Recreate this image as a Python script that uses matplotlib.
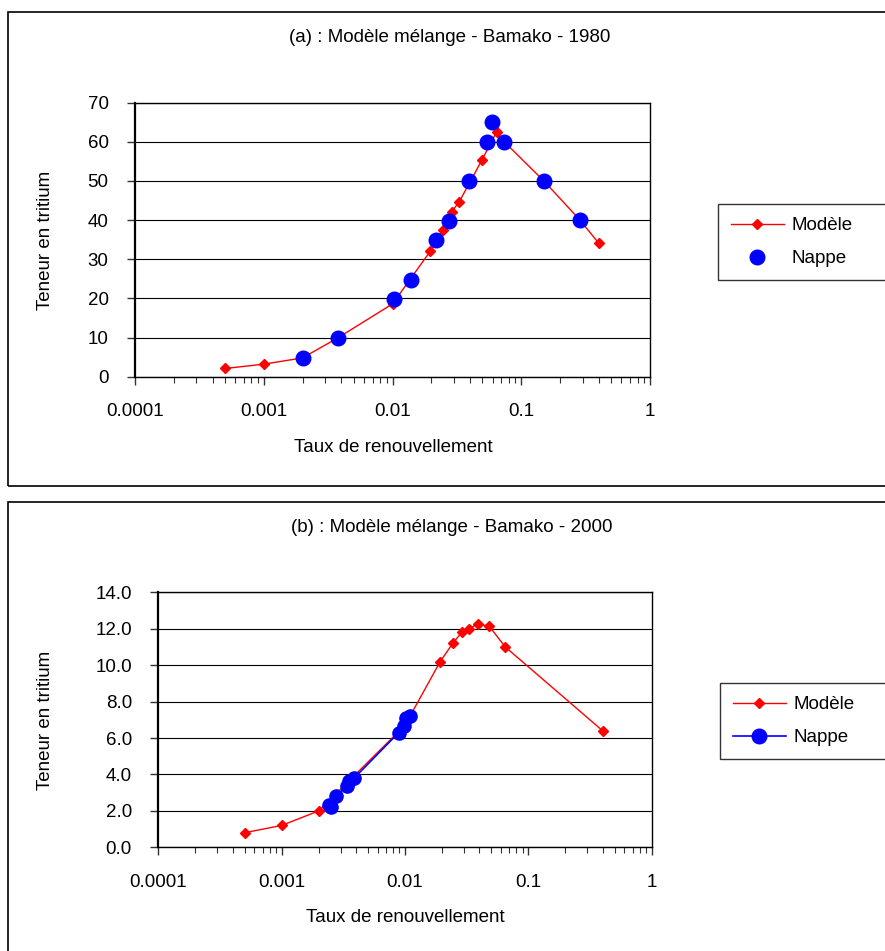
import matplotlib.pyplot as plt
from matplotlib.patches import Rectangle
from matplotlib.lines import Line2D
from matplotlib.ticker import LogLocator, NullFormatter, FixedLocator, FixedFormatter

plt.rcParams['font.family'] = ['Liberation Sans', 'DejaVu Sans']

# (a) Bamako 1980
model_a_x = [0.0005, 0.001, 0.002, 0.0038, 0.01, 0.0196, 0.0245, 0.0288, 0.033,
             0.0494, 0.0644, 0.0738, 0.15, 0.286, 0.4]
model_a_y = [2.1, 3.2, 4.8, 10.0, 18.6, 32.0, 37.6, 42.1, 44.7,
             55.3, 62.6, 60.0, 50.0, 40.0, 34.1]
nappe_a_x = [0.002, 0.0038, 0.0102, 0.014, 0.0219, 0.0275, 0.0392, 0.0542, 0.0595,
             0.0738, 0.15, 0.286]
nappe_a_y = [4.7, 10.0, 19.8, 24.8, 34.8, 39.8, 50.0, 60.0, 65.0, 60.0, 50.0, 40.0]

# (b) Bamako 2000
model_b_x = [0.0005, 0.001, 0.002, 0.01, 0.0193, 0.0244, 0.0288, 0.0328,
             0.039, 0.048, 0.065, 0.4]
model_b_y = [0.8, 1.2, 2.0, 6.7, 10.2, 11.2, 11.8, 12.0,
             12.25, 12.15, 11.0, 6.4]
nappe_b_x = [0.0024, 0.0025, 0.00275, 0.00336, 0.0035, 0.00387,
             0.0089, 0.0098, 0.0101, 0.011]
nappe_b_y = [2.3, 2.2, 2.8, 3.35, 3.65, 3.8, 6.3, 6.65, 7.1, 7.2]

x_ticks = [0.0001, 0.001, 0.01, 0.1, 1]
x_labels = ['0.0001', '0.001', '0.01', '0.1', '1']
y_ticks_a = [0, 10, 20, 30, 40, 50, 60, 70]
y_ticks_b = [0, 2, 4, 6, 8, 10, 12, 14]
y_labels_b = ['%.1f' % v for v in y_ticks_b]

FS = 13.5
W, H = 885, 951

fig = plt.figure(figsize=(W / 100, H / 100), dpi=100)


def fx(px):
    return px / W


def fy(py):
    return 1 - py / H


def setup(ax, yticks, ylabels):
    ax.set_xscale('log')
    ax.set_xlim(0.0001, 1)
    ax.set_ylim(yticks[0], yticks[-1])
    ax.xaxis.set_major_locator(FixedLocator(x_ticks))
    ax.xaxis.set_major_formatter(FixedFormatter(x_labels))
    ax.xaxis.set_minor_locator(LogLocator(base=10, subs=range(2, 10)))
    ax.xaxis.set_minor_formatter(NullFormatter())
    ax.yaxis.set_major_locator(FixedLocator(yticks))
    ax.yaxis.set_major_formatter(FixedFormatter(ylabels))
    ax.grid(axis='y', color='black', lw=0.8)
    ax.set_axisbelow(True)
    ax.tick_params(axis='both', which='major', direction='out', length=6,
                   width=1, labelsize=FS, pad=13, color='#333333')
    ax.tick_params(axis='x', which='minor', direction='out', length=4, width=0.8,
                   color='#333333')
    for s in ax.spines.values():
        s.set_linewidth(1.0)
    ax.spines['left'].set_linewidth(1.6)


def add_legend(handles, x0, y0, y1):
    leg = fig.legend(handles, ['Modèle', 'Nappe'], loc='upper left',
                     bbox_to_anchor=(fx(x0), fy(y1), fx(905) - fx(x0), fy(y0) - fy(y1)),
                     mode='expand', fontsize=FS, frameon=True,
                     fancybox=False, edgecolor='black', handlelength=2.8,
                     handletextpad=0.4, borderpad=0.7, labelspacing=0.85,
                     borderaxespad=0)
    leg.get_frame().set_linewidth(1.0)
    return leg


# panel frames
fig.patches.append(Rectangle((fx(8), fy(486)), 1, fy(12) - fy(486),
                             transform=fig.transFigure, fill=False,
                             ec='black', lw=1.2))
fig.patches.append(Rectangle((fx(8), -0.1), 1, fy(502) + 0.1,
                             transform=fig.transFigure, fill=False,
                             ec='black', lw=1.2))

# ---- top panel
ax1 = fig.add_axes([fx(135), fy(376.7), fx(650) - fx(135), fy(102.7) - fy(376.7)])
setup(ax1, y_ticks_a, [str(v) for v in y_ticks_a])
ax1.plot(model_a_x, model_a_y, color='red', lw=1, marker='D', ms=5, zorder=3)
ax1.plot(nappe_a_x, nappe_a_y, ls='none', color='blue', marker='o', ms=10.5, zorder=4)

fig.text(fx(450), fy(38), '(a) : Modèle mélange - Bamako - 1980', ha='center',
         va='center', fontsize=FS)
fig.text(fx(45), fy(240), 'Teneur en tritium', rotation=90, ha='center',
         va='center', fontsize=FS)
fig.text(fx(393), fy(448), 'Taux de renouvellement', ha='center', va='center',
         fontsize=FS)

h1 = [Line2D([], [], color='red', lw=1, marker='D', ms=5),
      Line2D([], [], ls='none', color='blue', marker='o', ms=10.5)]
add_legend(h1, 718, 204, 277)

# ---- bottom panel
ax2 = fig.add_axes([fx(158.3), fy(847.3), fx(651.7) - fx(158.3), fy(592.3) - fy(847.3)])
setup(ax2, y_ticks_b, y_labels_b)
ax2.plot(model_b_x, model_b_y, color='red', lw=1, marker='D', ms=5, zorder=3)
ax2.plot(nappe_b_x, nappe_b_y, color='blue', lw=1.2, marker='o', ms=9.5, zorder=4)

fig.text(fx(452), fy(528), '(b) : Modèle mélange - Bamako - 2000', ha='center',
         va='center', fontsize=FS)
fig.text(fx(45), fy(720), 'Teneur en tritium', rotation=90, ha='center',
         va='center', fontsize=FS)
fig.text(fx(405), fy(917), 'Taux de renouvellement', ha='center', va='center',
         fontsize=FS)

h2 = [Line2D([], [], color='red', lw=1, marker='D', ms=5),
      Line2D([], [], color='blue', lw=1.2, marker='o', ms=10.5)]
add_legend(h2, 720, 683, 756)

fig.savefig('out.png', dpi=100)
